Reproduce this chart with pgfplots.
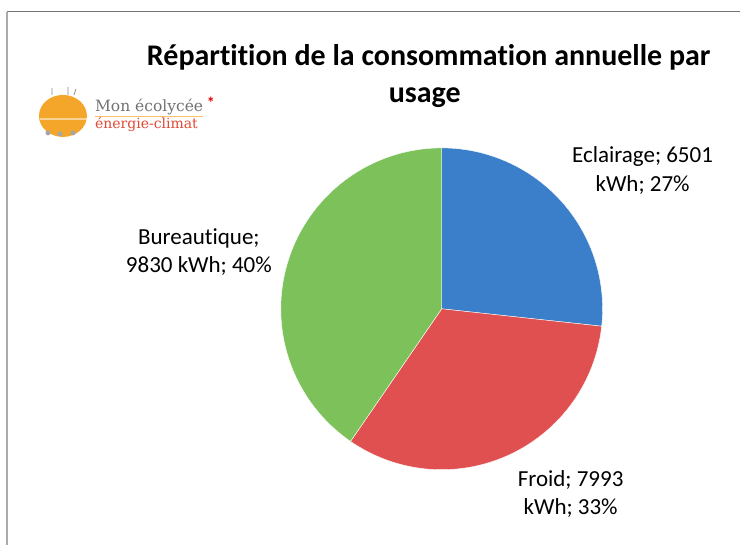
\documentclass[border=0pt]{standalone}
\usepackage{pgfplots}
\pgfplotsset{compat=1.18}
\usepackage{fontspec}
\setmainfont[Ligatures={NoCommon}]{Carlito}
\newfontfamily\logofont{DejaVu Serif}

\definecolor{pieblue}{HTML}{3B7FCA}
\definecolor{piered}{HTML}{E15050}
\definecolor{piegreen}{HTML}{7CC15A}
\definecolor{sunorange}{HTML}{F3A62A}
\definecolor{logored}{HTML}{E04A36}

% data (kWh)
\def\vE{6501}% Eclairage
\def\vF{7993}% Froid
\def\vB{9830}% Bureautique
\pgfmathsetmacro{\fE}{\vE/1000}
\pgfmathsetmacro{\fF}{\vF/1000}
\pgfmathsetmacro{\fB}{\vB/1000}
\pgfmathsetmacro{\tot}{\fE+\fF+\fB}
\pgfmathsetmacro{\aA}{90}
\pgfmathsetmacro{\aB}{90-360*\fE/\tot}
\pgfmathsetmacro{\aC}{\aB-360*\fF/\tot}
\pgfmathsetmacro{\aD}{-270}
\def\cx{442}
\def\cy{309}
\def\rr{161}

\begin{document}
\begin{tikzpicture}
\begin{axis}[
  scale only axis, width=740bp, height=545bp,
  xmin=0, xmax=740, ymin=0, ymax=545, y dir=reverse,
  hide axis, clip=false,
]
\path[fill=white] (axis cs:0,0) rectangle (axis cs:740,545);
% frame
\draw[color=black!55, line width=1bp] (axis cs:7,12) -- (axis cs:740,12);
\draw[color=black!33, line width=2.2bp] (axis cs:7,12) -- (axis cs:7,545);

% pie
\addplot[fill=pieblue, draw=white, line width=0.4bp, domain=\aB:\aA, samples=120, variable=\t]
  ({\cx+\rr*cos(\t)},{\cy-\rr*sin(\t)}) -- (axis cs:\cx,\cy) -- cycle;
\addplot[fill=piered, draw=white, line width=0.4bp, domain=\aC:\aB, samples=120, variable=\t]
  ({\cx+\rr*cos(\t)},{\cy-\rr*sin(\t)}) -- (axis cs:\cx,\cy) -- cycle;
\addplot[fill=piegreen, draw=white, line width=0.4bp, domain=\aD:\aC, samples=120, variable=\t]
  ({\cx+\rr*cos(\t)},{\cy-\rr*sin(\t)}) -- (axis cs:\cx,\cy) -- cycle;

% title
\node[anchor=base, font=\fontsize{30bp}{37bp}\selectfont\bfseries] at (axis cs:429,66) {Répartition de la consommation annuelle par};
\node[anchor=base, font=\fontsize{30bp}{37bp}\selectfont\bfseries] at (axis cs:425,103) {usage};

% labels
\node[anchor=base, font=\fontsize{23bp}{28bp}\selectfont] at (axis cs:643,163) {Eclairage; 6501};
\node[anchor=base, font=\fontsize{23bp}{28bp}\selectfont] at (axis cs:643,192) {kWh; 27\%};
\node[anchor=base, font=\fontsize{23bp}{28bp}\selectfont] at (axis cs:571,487) {Froid; 7993};
\node[anchor=base, font=\fontsize{23bp}{28bp}\selectfont] at (axis cs:571,515) {kWh; 33\%};
\node[anchor=base, font=\fontsize{23bp}{28bp}\selectfont] at (axis cs:199,245) {Bureautique;};
\node[anchor=base, font=\fontsize{23bp}{28bp}\selectfont] at (axis cs:199,273) {9830 kWh; 40\%};

% logo
\fill[sunorange] (axis cs:63,116) ellipse [x radius=24bp, y radius=21bp];
\fill[white, opacity=0.5] (axis cs:40,118) rectangle (axis cs:88,120);
\draw[black!45, line width=0.8bp] (axis cs:52,95) -- (axis cs:52,88) (axis cs:68,95) -- (axis cs:68,87) (axis cs:74,95) -- (axis cs:76,89);
\fill[black!35] (axis cs:48,133) circle[radius=2.5bp] (axis cs:60,134) circle[radius=2.5bp] (axis cs:73,133) circle[radius=2.5bp];
\node[anchor=base west, inner sep=0pt, text=black!55, font=\logofont\fontsize{15.5bp}{17bp}\selectfont] at (axis cs:95,112) {Mon écolycée};
\node[anchor=center, inner sep=0pt, text=red!90!black, font=\fontsize{16bp}{16bp}\selectfont\bfseries] at (axis cs:211,103) {*};
\node[anchor=base west, inner sep=0pt, text=logored, font=\logofont\fontsize{14bp}{16bp}\selectfont] at (axis cs:95,129) {énergie-climat};
\draw[sunorange!70, line width=0.6bp] (axis cs:95,116) -- (axis cs:203,116);
\end{axis}
\end{tikzpicture}
\end{document}
